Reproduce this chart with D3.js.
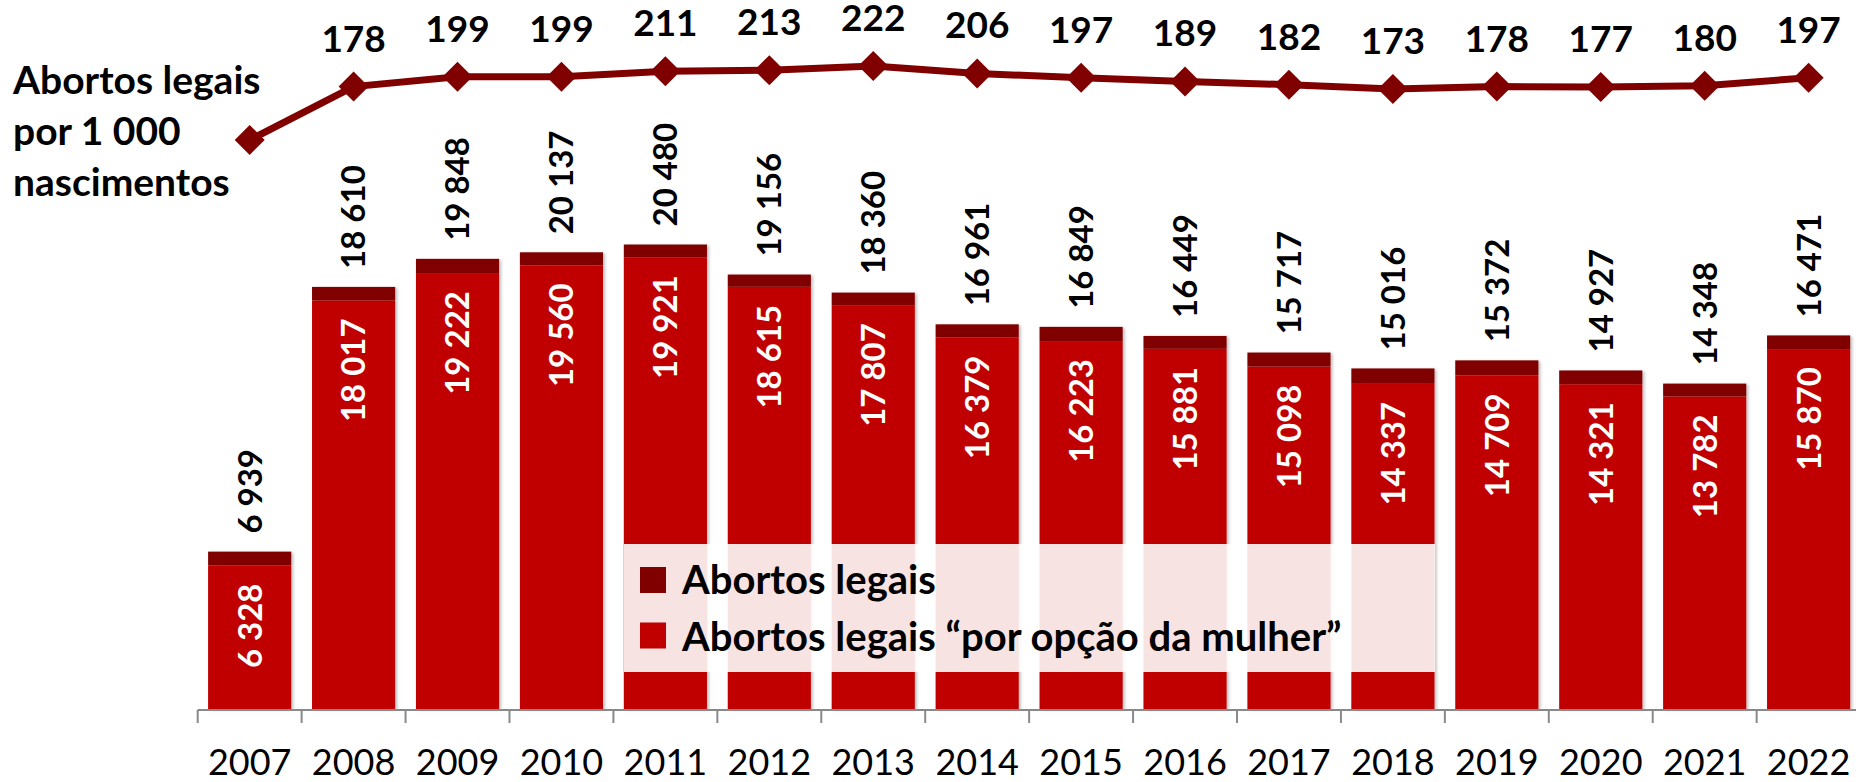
<!DOCTYPE html>
<html>
<head>
<meta charset="utf-8">
<script src="https://cdn.jsdelivr.net/npm/d3@7"></script>
<style>
  body { margin: 0; background: #fff; }
  svg { display: block; font-family: Lato, "Open Sans", sans-serif; }
</style>
</head>
<body>
<script>
let width = 1856;
let height = 782;

// abortos legais por ano (total e "por opção da mulher") + taxa por 1 000 nascimentos
let data = [
  { year: 2007, total: 6939,  opcao: 6328,  rate: 64 },
  { year: 2008, total: 18610, opcao: 18017, rate: 178 },
  { year: 2009, total: 19848, opcao: 19222, rate: 199 },
  { year: 2010, total: 20137, opcao: 19560, rate: 199 },
  { year: 2011, total: 20480, opcao: 19921, rate: 211 },
  { year: 2012, total: 19156, opcao: 18615, rate: 213 },
  { year: 2013, total: 18360, opcao: 17807, rate: 222 },
  { year: 2014, total: 16961, opcao: 16379, rate: 206 },
  { year: 2015, total: 16849, opcao: 16223, rate: 197 },
  { year: 2016, total: 16449, opcao: 15881, rate: 189 },
  { year: 2017, total: 15717, opcao: 15098, rate: 182 },
  { year: 2018, total: 15016, opcao: 14337, rate: 173 },
  { year: 2019, total: 15372, opcao: 14709, rate: 178 },
  { year: 2020, total: 14927, opcao: 14321, rate: 177 },
  { year: 2021, total: 14348, opcao: 13782, rate: 180 },
  { year: 2022, total: 16471, opcao: 15870, rate: 197 }
];

let fmt = function(v) { return d3.format(',')(v).replace(',', ' '); };

let svg = d3.select('body').append('svg')
    .attr('width', width)
    .attr('height', height);

let defs = svg.append('defs');
defs.append('filter')
    .attr('id', 'shadow')
    .attr('x', '-10%').attr('y', '-10%').attr('width', '130%').attr('height', '120%')
  .append('feDropShadow')
    .attr('dx', 2).attr('dy', 1).attr('stdDeviation', 1.5)
    .attr('flood-color', '#000').attr('flood-opacity', 0.25);

// x is a band scale, one band per year
let x = d3.scaleBand()
    .domain(data.map(function(d) { return d.year; }))
    .range([197.7, 197.7 + 16 * 103.93])
    .paddingInner(0.2)
    .paddingOuter(0.1);

// y for the bars
let y = d3.scaleLinear().domain([0, 20000]).range([709, 709 - 20000 * 0.02268]);

// y2 for the rate line on top
let y2 = d3.scaleLinear().domain([0, 222]).range([66 + 222 * 0.468, 66]);

// bars
let bars = svg.append('g').attr('filter', 'url(#shadow)');

bars.selectAll('rect.opcao').data(data).enter().append('rect')
    .attr('class', 'opcao')
    .attr('x', function(d) { return x(d.year); })
    .attr('y', function(d) { return y(d.opcao); })
    .attr('width', x.bandwidth())
    .attr('height', function(d) { return y(0) - y(d.opcao); })
    .attr('fill', '#c00000');

bars.selectAll('rect.outros').data(data).enter().append('rect')
    .attr('class', 'outros')
    .attr('x', function(d) { return x(d.year); })
    .attr('y', function(d) { return y(d.total); })
    .attr('width', x.bandwidth())
    .attr('height', function(d) { return y(d.opcao) - y(d.total); })
    .attr('fill', '#800000');

// labels inside the red part (white)
svg.selectAll('text.inner').data(data).enter().append('text')
    .attr('class', 'inner')
    .attr('transform', function(d) {
      return 'translate(' + (x(d.year) + x.bandwidth() / 2) + ',' + (y(d.opcao) + 18) + ') rotate(-90)';
    })
    .attr('text-anchor', 'end')
    .attr('dy', '0.36em')
    .attr('fill', '#fff')
    .attr('font-weight', 'bold')
    .attr('font-size', 33)
    .text(function(d) { return fmt(d.opcao); });

// labels above the bars (black)
svg.selectAll('text.total').data(data).enter().append('text')
    .attr('class', 'total')
    .attr('transform', function(d) {
      return 'translate(' + (x(d.year) + x.bandwidth() / 2) + ',' + (y(d.total) - 18) + ') rotate(-90)';
    })
    .attr('text-anchor', 'start')
    .attr('dy', '0.36em')
    .attr('fill', '#000')
    .attr('font-weight', 'bold')
    .attr('font-size', 33)
    .text(function(d) { return fmt(d.total); });

// x axis: grey line with ticks between the bands
let step = x.step();
let x0 = x.range()[0];
let axis = svg.append('g').attr('class', 'x axis');
axis.append('line')
    .attr('x1', x0).attr('x2', width)
    .attr('y1', 710).attr('y2', 710)
    .attr('stroke', '#898989').attr('stroke-width', 2);
axis.selectAll('line.tick').data(d3.range(17)).enter().append('line')
    .attr('class', 'tick')
    .attr('x1', function(i) { return x0 + i * step; })
    .attr('x2', function(i) { return x0 + i * step; })
    .attr('y1', 710).attr('y2', 723)
    .attr('stroke', '#898989').attr('stroke-width', 2);

svg.append('g')
    .attr('transform', 'translate(0,710)')
    .call(d3.axisBottom(x).tickSize(0).tickPadding(39))
    .call(function(g) {
      g.select('.domain').remove();
      g.selectAll('text')
        .attr('font-family', 'Lato, sans-serif')
        .attr('font-size', 36)
        .attr('fill', '#000');
    });

// legend: semi-transparent white box over the bars
let legend = svg.append('g');
legend.append('rect')
    .attr('x', 624).attr('y', 544)
    .attr('width', 1435 - 624).attr('height', 672 - 544)
    .attr('fill', '#fff').attr('fill-opacity', 0.89);

let legendItems = [
  { label: 'Abortos legais', color: '#800000' },
  { label: 'Abortos legais \u201cpor opção da mulher\u201d', color: '#c00000' }
];
legend.selectAll('rect.key').data(legendItems).enter().append('rect')
    .attr('class', 'key')
    .attr('x', 640)
    .attr('y', function(d, i) { return 567 + i * 55.5; })
    .attr('width', 26).attr('height', 26)
    .attr('fill', function(d) { return d.color; });
legend.selectAll('text').data(legendItems).enter().append('text')
    .attr('x', 682)
    .attr('y', function(d, i) { return 594 + i * 57; })
    .attr('font-weight', 'bold')
    .attr('font-size', 40)
    .text(function(d) { return d.label; });

// rate line
let line = d3.line()
  .x(function(d) { return x(d.year) + x.bandwidth() / 2; })
  .y(function(d) { return y2(d.rate); });

svg.append('path')
    .datum(data)
    .attr('fill', 'none')
    .attr('stroke', '#800000')
    .attr('stroke-width', 7)
    .attr('d', line);

svg.selectAll('path.dot').data(data).enter().append('path')
    .attr('class', 'dot')
    .attr('d', d3.symbol().type(d3.symbolSquare).size(450))
    .attr('transform', function(d) {
      return 'translate(' + (x(d.year) + x.bandwidth() / 2) + ',' + y2(d.rate) + ') rotate(45)';
    })
    .attr('fill', '#800000');

svg.selectAll('text.rate').data(data.slice(1)).enter().append('text')
    .attr('class', 'rate')
    .attr('x', function(d) { return x(d.year) + x.bandwidth() / 2; })
    .attr('y', function(d) { return y2(d.rate) - 35; })
    .attr('text-anchor', 'middle')
    .attr('font-weight', 'bold')
    .attr('font-size', 37)
    .text(function(d) { return d.rate; });

// title on the left for the line
svg.append('text')
    .attr('x', 13)
    .attr('font-weight', 'bold')
    .attr('font-size', 39)
  .selectAll('tspan').data(['Abortos legais', 'por 1 000', 'nascimentos']).enter().append('tspan')
    .attr('x', 13)
    .attr('y', function(d, i) { return 94 + i * 51; })
    .text(function(d) { return d; });
</script>
</body>
</html>
